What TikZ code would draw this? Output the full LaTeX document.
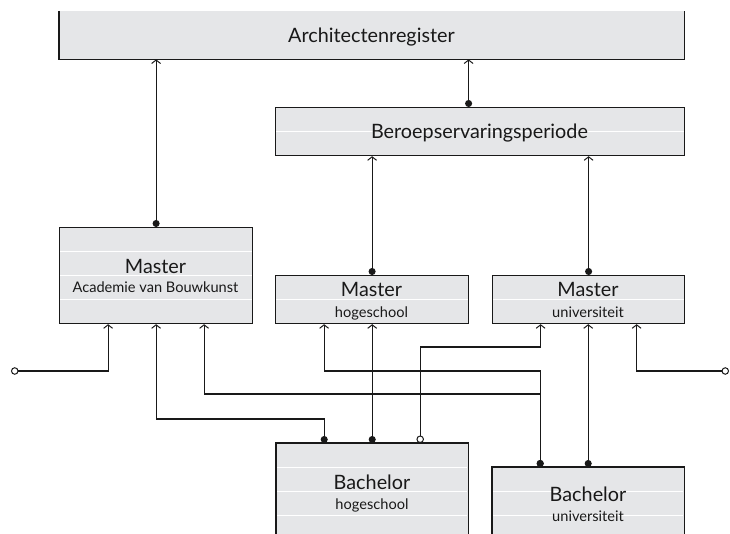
\documentclass[tikz,border=0pt]{standalone}
\usepackage{fontspec}
\setmainfont{Lato}
\usetikzlibrary{arrows.meta,calc}
\definecolor{boxfill}{RGB}{229,230,232}
\definecolor{edge}{RGB}{25,25,25}
\begin{document}
\begin{tikzpicture}[x=1pt,y=-1pt,
  box/.style={fill=boxfill,draw=edge,line width=1.2pt,inner sep=0pt,anchor=north west},
  openbox/.style={fill=boxfill,draw=none,inner sep=0pt,anchor=north west},
  rim/.style={draw=edge,line width=1.2pt},
  big/.style={font=\fontsize{19.8}{22}\selectfont,text=black!90,inner sep=0pt,anchor=base},
  small/.style={font=\fontsize{14.6}{16}\selectfont,text=black!90,inner sep=0pt,anchor=base},
  link/.style={draw=edge,line width=1.2pt,{Circle[length=7pt]}-{Straight Barb[length=3.5pt,width=9pt,line width=1pt]}},
  olink/.style={draw=edge,line width=1.2pt,{Circle[open,fill=white,length=7.5pt,line width=1pt]}-{Straight Barb[length=3.5pt,width=9pt,line width=1pt]}},
  grid/.style={draw=white,line width=0.8pt}]
\useasboundingbox (0,0) rectangle (730,534);
\clip (0,0) rectangle (730,534);
% boxes
\node[openbox,minimum width=625pt,minimum height=48pt] (ar) at (59,11) {};
\draw[rim] (ar.north west) -- (ar.south west) -- (ar.south east) -- (ar.north east);
\node[big] (art) at (371.5,43) {Architectenregister};

\node[box,minimum width=409pt,minimum height=48pt] (bp) at (275,107) {};
\draw[grid] ($(bp.west)+(1,0)$) -- ($(bp.east)+(-1,0)$);
\node[big] (bpt) at (479.5,139) {Beroepservaringsperiode};

\node[box,minimum width=193pt,minimum height=96pt] (ma) at (59,227) {};
\foreach \d in {24,48,72}{\draw[grid] ($(ma.north west)+(1,\d)$) -- ($(ma.north east)+(-1,\d)$);}
\node[big] (mat1) at (155.5,274) {Master};
\node[small] (mat2) at (155.5,292) {Academie van Bouwkunst};

\node[box,minimum width=193pt,minimum height=48pt] (mh) at (275,275) {};
\draw[grid] ($(mh.west)+(1,0)$) -- ($(mh.east)+(-1,0)$);
\node[big] (mht1) at (371.5,297) {Master};
\node[small] (mht2) at (371.5,317) {hogeschool};

\node[box,minimum width=192pt,minimum height=48pt] (mu) at (492,275) {};
\draw[grid] ($(mu.west)+(1,0)$) -- ($(mu.east)+(-1,0)$);
\node[big] (mut1) at (588,297) {Master};
\node[small] (mut2) at (588,317) {universiteit};

\node[openbox,minimum width=192pt,minimum height=100pt] (bh) at (276,443) {};
\draw[rim] (bh.south west) -- (bh.north west) -- (bh.north east) -- (bh.south east);
\foreach \d in {24,48,72}{\draw[grid] ($(bh.north west)+(1,\d)$) -- ($(bh.north east)+(-1,\d)$);}
\node[big] (bht1) at (372,489) {Bachelor};
\node[small] (bht2) at (372,509) {hogeschool};

\node[openbox,minimum width=192pt,minimum height=76pt] (bu) at (492,467) {};
\draw[rim] (bu.south west) -- (bu.north west) -- (bu.north east) -- (bu.south east);
\foreach \d in {24,48}{\draw[grid] ($(bu.north west)+(1,\d)$) -- ($(bu.north east)+(-1,\d)$);}
\node[big] (but1) at (588,501) {Bachelor};
\node[small] (but2) at (588,521) {universiteit};

% free ends
\coordinate (inL) at (11,371);
\coordinate (inR) at (729,371);
\coordinate (bpo) at ($(bp.north)+(-11.5,0)$);

% connectors
\draw[link] (ma.north) -- (ma.north |- ar.south);
\draw[link] (bpo) -- (bpo |- ar.south);
\draw[link] (mh.north) -- (mh.north |- bp.south);
\draw[link] (mu.north) -- (mu.north |- bp.south);

\draw[olink] (inL) -| ($(ma.south)+(-48,0)$);
\draw[link] ($(bh.north)+(-48,0)$) |- ++(0,-24) -| (ma.south);
\draw[link] ($(bu.north)+(-48,0)$) -- ++(0,-73) -| ($(ma.south)+(48,0)$);
\draw[link] ($(bu.north)+(-48,0)$) -- ++(0,-96) -| ($(mh.south)+(-48,0)$);
\draw[link] (bh.north) -- (bh.north |- mh.south);
\draw[olink] ($(bh.north)+(48,0)$) -- ++(0,-96) -| ($(mu.south)+(-48,0)$);
\draw[link] (bu.north) -- (bu.north |- mu.south);
\draw[olink] (inR) -| ($(mu.south)+(48,0)$);
\end{tikzpicture}
\end{document}
